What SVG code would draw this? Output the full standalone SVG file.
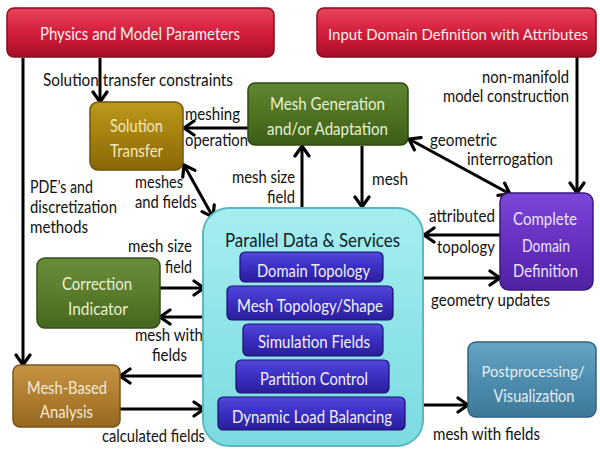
<svg xmlns="http://www.w3.org/2000/svg" width="600" height="450" viewBox="0 0 600 450">
<defs>
<linearGradient id="gRed" x1="0" y1="0" x2="0" y2="1"><stop offset="0" stop-color="#E8445C"/><stop offset="0.5" stop-color="#D21E3C"/><stop offset="1" stop-color="#A80E28"/></linearGradient>
<linearGradient id="gGold" x1="0" y1="0" x2="0" y2="1"><stop offset="0" stop-color="#BC981C"/><stop offset="0.5" stop-color="#A4800E"/><stop offset="1" stop-color="#886806"/></linearGradient>
<linearGradient id="gGreen" x1="0" y1="0" x2="0" y2="1"><stop offset="0" stop-color="#608632"/><stop offset="0.5" stop-color="#4F7322"/><stop offset="1" stop-color="#3C5C16"/></linearGradient>
<linearGradient id="gGreen2" x1="0" y1="0" x2="0" y2="1"><stop offset="0" stop-color="#6A8C3A"/><stop offset="0.5" stop-color="#5A7C2C"/><stop offset="1" stop-color="#46661E"/></linearGradient>
<linearGradient id="gBrown" x1="0" y1="0" x2="0" y2="1"><stop offset="0" stop-color="#C49444"/><stop offset="0.5" stop-color="#B07E30"/><stop offset="1" stop-color="#946820"/></linearGradient>
<linearGradient id="gPurple" x1="0" y1="0" x2="0" y2="1"><stop offset="0" stop-color="#7C48DA"/><stop offset="0.5" stop-color="#6630C0"/><stop offset="1" stop-color="#5022A4"/></linearGradient>
<linearGradient id="gSteel" x1="0" y1="0" x2="0" y2="1"><stop offset="0" stop-color="#66A4C4"/><stop offset="0.5" stop-color="#4F8DAE"/><stop offset="1" stop-color="#3E7898"/></linearGradient>
<linearGradient id="gCyan" x1="0" y1="0" x2="0" y2="1"><stop offset="0" stop-color="#A6EEF0"/><stop offset="0.5" stop-color="#8EE4E8"/><stop offset="1" stop-color="#7CDAE0"/></linearGradient>
<linearGradient id="gBlue" x1="0" y1="0" x2="0" y2="1"><stop offset="0" stop-color="#5048DC"/><stop offset="0.5" stop-color="#3A2EC0"/><stop offset="1" stop-color="#2A1E9C"/></linearGradient>
<marker id="ah" markerUnits="userSpaceOnUse" markerWidth="18" markerHeight="18" refX="13" refY="9" orient="auto-start-reverse" viewBox="0 0 18 18">
<path d="M3,2 L13,9 L3,16" fill="none" stroke="#000" stroke-width="3.2" stroke-linecap="round" stroke-linejoin="miter"/>
</marker>
<style>
text{font-family:Lato,"Open Sans","Liberation Sans",sans-serif}
.lbl{font-size:16.5px;fill:#111}
.bx{font-size:17px}
.inner{font-size:18px;fill:#F2F0FF}
.con{fill:none;stroke:#000;stroke-width:3}
.arr{marker-end:url(#ah)}
.both{marker-start:url(#ah);marker-end:url(#ah)}
</style>
</defs>

<g id="connectors">
<path class="con arr" d="M100,58 V102"/>
<path class="con arr" d="M23,58 V365"/>
<path class="con arr" d="M248,128 H184"/>
<path class="con both" d="M184,165 L213,217"/>
<path class="con arr" d="M302,208 V146"/>
<path class="con arr" d="M362,146 V207"/>
<path class="con both" d="M409,139 L510,194"/>
<path class="con arr" d="M577,57 V193"/>
<path class="con arr" d="M500,235 H424"/>
<path class="con arr" d="M423,278 H500"/>
<path class="con arr" d="M160,288 H204"/>
<path class="con arr" d="M203,317 H160"/>
<path class="con arr" d="M203,376 H120"/>
<path class="con arr" d="M120,409 H204"/>
<path class="con arr" d="M423,405 H468"/>
</g>

<g id="labels">
<text class="lbl" x="43" y="86" textLength="190" lengthAdjust="spacingAndGlyphs">Solution transfer constraints</text>
<text class="lbl" x="482" y="83" textLength="87" lengthAdjust="spacingAndGlyphs">non-manifold</text>
<text class="lbl" x="443" y="102" textLength="126" lengthAdjust="spacingAndGlyphs">model construction</text>
<text class="lbl" x="185" y="120" textLength="55" lengthAdjust="spacingAndGlyphs">meshing</text>
<text class="lbl" x="185" y="146" textLength="63" lengthAdjust="spacingAndGlyphs">operation</text>
<text class="lbl" x="232" y="183" textLength="63" lengthAdjust="spacingAndGlyphs">mesh size</text>
<text class="lbl" x="267" y="203" textLength="28" lengthAdjust="spacingAndGlyphs">field</text>
<text class="lbl" x="372" y="185" textLength="36" lengthAdjust="spacingAndGlyphs">mesh</text>
<text class="lbl" x="135" y="188" textLength="48" lengthAdjust="spacingAndGlyphs">meshes</text>
<text class="lbl" x="135" y="208" textLength="62" lengthAdjust="spacingAndGlyphs">and fields</text>
<text class="lbl" x="30" y="193" textLength="63" lengthAdjust="spacingAndGlyphs">PDE’s and</text>
<text class="lbl" x="30" y="213" textLength="87" lengthAdjust="spacingAndGlyphs">discretization</text>
<text class="lbl" x="30" y="233" textLength="58" lengthAdjust="spacingAndGlyphs">methods</text>
<text class="lbl" x="430" y="146" textLength="67" lengthAdjust="spacingAndGlyphs">geometric</text>
<text class="lbl" x="467" y="165" textLength="86" lengthAdjust="spacingAndGlyphs">interrogation</text>
<text class="lbl" x="429" y="222" textLength="66" lengthAdjust="spacingAndGlyphs">attributed</text>
<text class="lbl" x="437" y="253" textLength="58" lengthAdjust="spacingAndGlyphs">topology</text>
<text class="lbl" x="431" y="306" textLength="119" lengthAdjust="spacingAndGlyphs">geometry updates</text>
<text class="lbl" x="128" y="252" textLength="64" lengthAdjust="spacingAndGlyphs">mesh size</text>
<text class="lbl" x="165" y="273" textLength="27" lengthAdjust="spacingAndGlyphs">field</text>
<text class="lbl" x="135" y="341" font-size="16" textLength="68" lengthAdjust="spacingAndGlyphs">mesh with</text>
<text class="lbl" x="152" y="361" font-size="16" textLength="35" lengthAdjust="spacingAndGlyphs">fields</text>
<text class="lbl" x="102" y="442" textLength="103" lengthAdjust="spacingAndGlyphs">calculated fields</text>
<text class="lbl" x="433" y="440" textLength="107" lengthAdjust="spacingAndGlyphs">mesh with fields</text>
</g>

<g id="physics">
<rect x="7" y="8" width="267" height="49" rx="7" fill="url(#gRed)" stroke="#8A0A20" stroke-width="1.5"/>
<text class="bx" x="40" y="40" fill="#FBEFF0" textLength="200" lengthAdjust="spacingAndGlyphs">Physics and Model Parameters</text>
</g>

<g id="input-domain">
<rect x="317" y="8" width="279" height="49" rx="7" fill="url(#gRed)" stroke="#8A0A20" stroke-width="1.5"/>
<text x="458" y="40" font-size="15" fill="#FBEFF0" text-anchor="middle" textLength="260" lengthAdjust="spacingAndGlyphs">Input Domain Definition with Attributes</text>
</g>

<g id="solution-transfer">
<rect x="90" y="102" width="93" height="68" rx="8" fill="url(#gGold)" stroke="#6E5404" stroke-width="1.5"/>
<text class="bx" x="110" y="132" fill="#F4E8BC" textLength="53" lengthAdjust="spacingAndGlyphs">Solution</text>
<text class="bx" x="110" y="157" fill="#F4E8BC" textLength="53" lengthAdjust="spacingAndGlyphs">Transfer</text>
</g>

<g id="mesh-generation">
<rect x="248" y="83" width="160" height="62" rx="7" fill="url(#gGreen)" stroke="#2E4810" stroke-width="1.5"/>
<text class="bx" x="270" y="110" fill="#E6F0D6" textLength="115" lengthAdjust="spacingAndGlyphs">Mesh Generation</text>
<text class="bx" x="267" y="135" fill="#E6F0D6" textLength="121" lengthAdjust="spacingAndGlyphs">and/or Adaptation</text>
</g>

<g id="complete-domain">
<rect x="500" y="193" width="93" height="97" rx="9" fill="url(#gPurple)" stroke="#3C1880" stroke-width="1.5"/>
<text class="bx" x="513" y="225" fill="#ECE4FF" textLength="64" lengthAdjust="spacingAndGlyphs">Complete</text>
<text class="bx" x="522" y="252" fill="#ECE4FF" textLength="48" lengthAdjust="spacingAndGlyphs">Domain</text>
<text class="bx" x="513" y="277" fill="#ECE4FF" textLength="65" lengthAdjust="spacingAndGlyphs">Definition</text>
</g>

<g id="correction-indicator">
<rect x="37" y="258" width="123" height="70" rx="8" fill="url(#gGreen2)" stroke="#34501A" stroke-width="1.5"/>
<text class="bx" x="62" y="290" fill="#E6F0D6" textLength="70" lengthAdjust="spacingAndGlyphs">Correction</text>
<text class="bx" x="68" y="315" fill="#E6F0D6" textLength="60" lengthAdjust="spacingAndGlyphs">Indicator</text>
</g>

<g id="mesh-based-analysis">
<rect x="13" y="365" width="107" height="62" rx="7" fill="url(#gBrown)" stroke="#7A5418" stroke-width="1.5"/>
<text class="bx" x="27" y="394" fill="#F6EAD4" textLength="80" lengthAdjust="spacingAndGlyphs">Mesh-Based</text>
<text class="bx" x="40" y="418" fill="#F6EAD4" textLength="53" lengthAdjust="spacingAndGlyphs">Analysis</text>
</g>

<g id="postprocessing">
<rect x="468" y="342" width="128" height="75" rx="8" fill="url(#gSteel)" stroke="#2E6484" stroke-width="1.5"/>
<text x="533" y="377" font-size="16" fill="#E4EFF5" text-anchor="middle" textLength="103" lengthAdjust="spacingAndGlyphs">Postprocessing/</text>
<text class="bx" x="534" y="402" fill="#E4EFF5" text-anchor="middle" textLength="81" lengthAdjust="spacingAndGlyphs">Visualization</text>
</g>

<g id="parallel-data">
<rect x="203" y="208" width="220" height="238" rx="26" fill="url(#gCyan)" stroke="#5AB8C0" stroke-width="2"/>
<text x="225" y="247" font-size="19" fill="#14202C" textLength="175" lengthAdjust="spacingAndGlyphs">Parallel Data &amp; Services</text>
<g id="domain-topology">
<rect x="240" y="252" width="143" height="30" rx="5" fill="url(#gBlue)" stroke="#1A1070" stroke-width="1.2"/>
<text class="inner" x="257" y="277" textLength="113" lengthAdjust="spacingAndGlyphs">Domain Topology</text>
</g>
<g id="mesh-topology">
<rect x="227" y="286" width="166" height="34" rx="5" fill="url(#gBlue)" stroke="#1A1070" stroke-width="1.2"/>
<text class="inner" x="237" y="312" textLength="146" lengthAdjust="spacingAndGlyphs">Mesh Topology/Shape</text>
</g>
<g id="simulation-fields">
<rect x="243" y="324" width="140" height="32" rx="5" fill="url(#gBlue)" stroke="#1A1070" stroke-width="1.2"/>
<text class="inner" x="258" y="348" textLength="112" lengthAdjust="spacingAndGlyphs">Simulation Fields</text>
</g>
<g id="partition-control">
<rect x="236" y="360" width="153" height="33" rx="5" fill="url(#gBlue)" stroke="#1A1070" stroke-width="1.2"/>
<text class="inner" x="260" y="385" textLength="108" lengthAdjust="spacingAndGlyphs">Partition Control</text>
</g>
<g id="dynamic-load">
<rect x="218" y="397" width="187" height="33" rx="5" fill="url(#gBlue)" stroke="#1A1070" stroke-width="1.2"/>
<text class="inner" x="232" y="423" textLength="160" lengthAdjust="spacingAndGlyphs">Dynamic Load Balancing</text>
</g>
</g>
</svg>
